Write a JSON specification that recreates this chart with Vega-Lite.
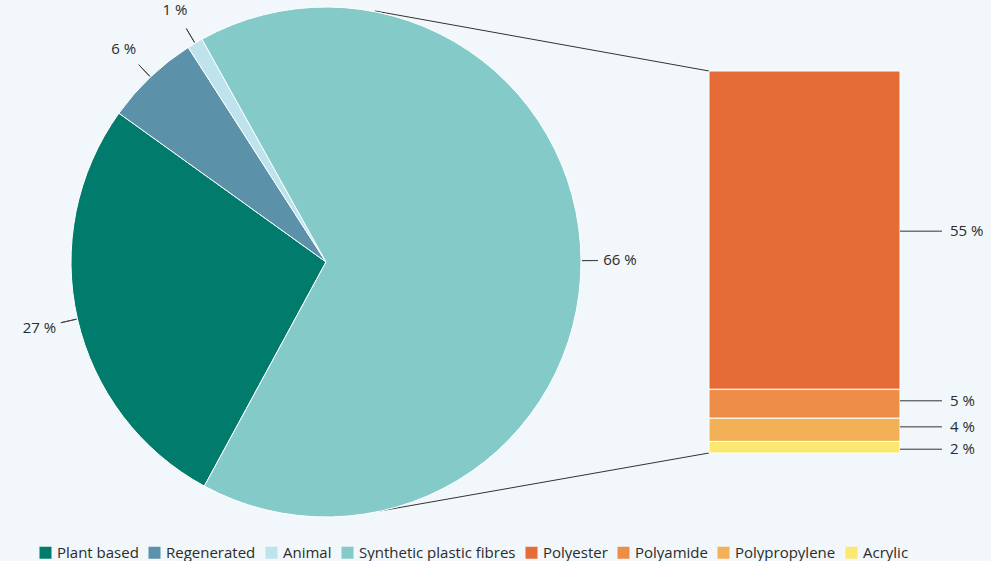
{
  "$schema": "https://vega.github.io/schema/vega-lite/v6.json",
  "width": 991,
  "height": 561,
  "padding": 0,
  "autosize": {"type": "none"},
  "background": "#f1f7fa",
  "config": {
    "view": {"stroke": null},
    "font": "Open Sans",
    "legend": {
      "orient": "none",
      "legendX": 38,
      "legendY": 545,
      "direction": "horizontal",
      "symbolType": "square",
      "symbolSize": 144,
      "symbolStrokeWidth": 0,
      "labelFontSize": 15,
      "labelColor": "#2b2b2b",
      "labelFont": "Open Sans",
      "labelOffset": 4,
      "columnPadding": 8,
      "padding": 0
    }
  },
  "data": {
    "values": [
      {"fibre": "Plant based", "group": "All textile fibres", "share": 27, "rank": 1},
      {"fibre": "Regenerated", "group": "All textile fibres", "share": 6, "rank": 2},
      {"fibre": "Animal", "group": "All textile fibres", "share": 1, "rank": 3},
      {"fibre": "Synthetic plastic fibres", "group": "All textile fibres", "share": 66, "rank": 4},
      {"fibre": "Polyester", "group": "Synthetic plastic fibres", "share": 55, "rank": 1},
      {"fibre": "Polyamide", "group": "Synthetic plastic fibres", "share": 5, "rank": 2},
      {"fibre": "Polypropylene", "group": "Synthetic plastic fibres", "share": 4, "rank": 3},
      {"fibre": "Acrylic", "group": "Synthetic plastic fibres", "share": 2, "rank": 4}
    ]
  },
  "layer": [
    {
      "data": {"values": [{"link": "top"}]},
      "mark": {"type": "rule", "color": "#333333", "strokeWidth": 1},
      "encoding": {
        "x": {"datum": 64.79, "type": "quantitative", "scale": {"domain": [0, 171.22], "nice": false, "zero": false}, "axis": null},
        "y": {"datum": 76.37, "type": "quantitative", "scale": {"domain": [-18.66, 78.267], "nice": false, "zero": false}, "axis": null},
        "x2": {"datum": 122.5},
        "y2": {"datum": 66}
      }
    },
    {
      "data": {"values": [{"link": "bottom"}]},
      "mark": {"type": "rule", "color": "#333333", "strokeWidth": 1},
      "encoding": {
        "x": {"datum": 65.65, "type": "quantitative", "scale": {"domain": [0, 171.22], "nice": false, "zero": false}, "axis": null},
        "y": {"datum": -10.02, "type": "quantitative", "scale": {"domain": [-18.66, 78.267], "nice": false, "zero": false}, "axis": null},
        "x2": {"datum": 122.5},
        "y2": {"datum": 0}
      }
    },
    {
      "transform": [
        {"filter": "datum.group === 'All textile fibres'"},
        {"stack": "share", "groupby": [], "sort": [{"field": "rank", "order": "ascending"}], "as": ["t0", "t1"]},
        {"calculate": "(datum.t0 + datum.t1) / 2", "as": "mid"},
        {"calculate": "datum.share + ' %'", "as": "label"}
      ],
      "layer": [
        {
          "mark": {"type": "arc", "radius": 255, "stroke": "white", "strokeWidth": 1},
          "encoding": {
            "x": {"datum": 56.325, "type": "quantitative", "scale": {"domain": [0, 171.22], "nice": false, "zero": false}, "axis": null},
            "y": {"datum": 33, "type": "quantitative", "scale": {"domain": [-18.66, 78.267], "nice": false, "zero": false}, "axis": null},
            "theta": {"field": "t0", "type": "quantitative", "scale": {"domain": [0, 100], "range": [3.639, 9.922]}},
            "theta2": {"field": "t1"},
            "color": {
              "field": "fibre",
              "type": "nominal",
              "title": null,
              "scale": {
                "domain": ["Plant based", "Regenerated", "Animal", "Synthetic plastic fibres", "Polyester", "Polyamide", "Polypropylene", "Acrylic"],
                "range": ["#007b6c", "#5b92aa", "#bfe3ec", "#83cac8", "#e66c37", "#ee8d48", "#f2b157", "#fbe870"]
              },
              "legend": {"title": null}
            }
          }
        },
        {
          "mark": {"type": "arc", "radius": 272, "radius2": 256, "filled": false, "stroke": "#444444", "strokeWidth": 1},
          "encoding": {
            "x": {"datum": 56.325, "type": "quantitative", "scale": {"domain": [0, 171.22], "nice": false, "zero": false}, "axis": null},
            "y": {"datum": 33, "type": "quantitative", "scale": {"domain": [-18.66, 78.267], "nice": false, "zero": false}, "axis": null},
            "theta": {"field": "mid", "type": "quantitative", "scale": {"domain": [0, 100], "range": [3.639, 9.922]}},
            "theta2": {"field": "mid"}
          }
        },
        {
          "mark": {"type": "text", "radius": 294, "align": "center", "baseline": "middle", "fontSize": 15, "color": "#2b2b2b", "font": "Open Sans"},
          "encoding": {
            "x": {"datum": 56.325, "type": "quantitative", "scale": {"domain": [0, 171.22], "nice": false, "zero": false}, "axis": null},
            "y": {"datum": 33, "type": "quantitative", "scale": {"domain": [-18.66, 78.267], "nice": false, "zero": false}, "axis": null},
            "theta": {"field": "mid", "type": "quantitative", "scale": {"domain": [0, 100], "range": [3.639, 9.922]}},
            "text": {"field": "label"}
          }
        }
      ]
    },
    {
      "transform": [
        {"filter": "datum.group === 'Synthetic plastic fibres'"},
        {"stack": "share", "groupby": [], "sort": [{"field": "rank", "order": "descending"}], "as": ["y0", "y1"]},
        {"calculate": "(datum.y0 + datum.y1) / 2", "as": "mid"},
        {"calculate": "datum.share + ' %'", "as": "label"}
      ],
      "layer": [
        {
          "mark": {"type": "rect", "stroke": "white", "strokeWidth": 1},
          "encoding": {
            "x": {"datum": 122.5, "type": "quantitative", "scale": {"domain": [0, 171.22], "nice": false, "zero": false}, "axis": null},
            "x2": {"datum": 155.5},
            "y": {"field": "y0", "type": "quantitative", "scale": {"domain": [-18.66, 78.267], "nice": false, "zero": false}, "axis": null},
            "y2": {"field": "y1"},
            "color": {"field": "fibre", "type": "nominal", "legend": {"title": null}}
          }
        },
        {
          "transform": [{"filter": "datum.fibre === 'Polyester'"}],
          "layer": [
            {
              "mark": {"type": "rule", "color": "#333333", "strokeWidth": 1, "yOffset": 1},
              "encoding": {
                "x": {"datum": 155.5, "type": "quantitative", "scale": {"domain": [0, 171.22], "nice": false, "zero": false}, "axis": null},
                "x2": {"datum": 162.75},
                "y": {"field": "mid", "type": "quantitative", "scale": {"domain": [-18.66, 78.267], "nice": false, "zero": false}, "axis": null}
              }
            },
            {
              "mark": {"type": "text", "align": "left", "baseline": "middle", "fontSize": 15, "color": "#2b2b2b", "font": "Open Sans", "yOffset": 1},
              "encoding": {
                "x": {"datum": 164.14, "type": "quantitative", "scale": {"domain": [0, 171.22], "nice": false, "zero": false}, "axis": null},
                "y": {"field": "mid", "type": "quantitative", "scale": {"domain": [-18.66, 78.267], "nice": false, "zero": false}, "axis": null},
                "text": {"field": "label"}
              }
            }
          ]
        },
        {
          "transform": [{"filter": "datum.fibre === 'Polyamide' || datum.fibre === 'Polypropylene'"}],
          "layer": [
            {
              "mark": {"type": "rule", "color": "#333333", "strokeWidth": 1, "yOffset": -3},
              "encoding": {
                "x": {"datum": 155.5, "type": "quantitative", "scale": {"domain": [0, 171.22], "nice": false, "zero": false}, "axis": null},
                "x2": {"datum": 162.75},
                "y": {"field": "mid", "type": "quantitative", "scale": {"domain": [-18.66, 78.267], "nice": false, "zero": false}, "axis": null}
              }
            },
            {
              "mark": {"type": "text", "align": "left", "baseline": "middle", "fontSize": 15, "color": "#2b2b2b", "font": "Open Sans", "yOffset": -3},
              "encoding": {
                "x": {"datum": 164.14, "type": "quantitative", "scale": {"domain": [0, 171.22], "nice": false, "zero": false}, "axis": null},
                "y": {"field": "mid", "type": "quantitative", "scale": {"domain": [-18.66, 78.267], "nice": false, "zero": false}, "axis": null},
                "text": {"field": "label"}
              }
            }
          ]
        },
        {
          "transform": [{"filter": "datum.fibre === 'Acrylic'"}],
          "layer": [
            {
              "mark": {"type": "rule", "color": "#333333", "strokeWidth": 1, "yOffset": 2},
              "encoding": {
                "x": {"datum": 155.5, "type": "quantitative", "scale": {"domain": [0, 171.22], "nice": false, "zero": false}, "axis": null},
                "x2": {"datum": 162.75},
                "y": {"field": "mid", "type": "quantitative", "scale": {"domain": [-18.66, 78.267], "nice": false, "zero": false}, "axis": null}
              }
            },
            {
              "mark": {"type": "text", "align": "left", "baseline": "middle", "fontSize": 15, "color": "#2b2b2b", "font": "Open Sans", "yOffset": 2},
              "encoding": {
                "x": {"datum": 164.14, "type": "quantitative", "scale": {"domain": [0, 171.22], "nice": false, "zero": false}, "axis": null},
                "y": {"field": "mid", "type": "quantitative", "scale": {"domain": [-18.66, 78.267], "nice": false, "zero": false}, "axis": null},
                "text": {"field": "label"}
              }
            }
          ]
        }
      ]
    }
  ]
}
